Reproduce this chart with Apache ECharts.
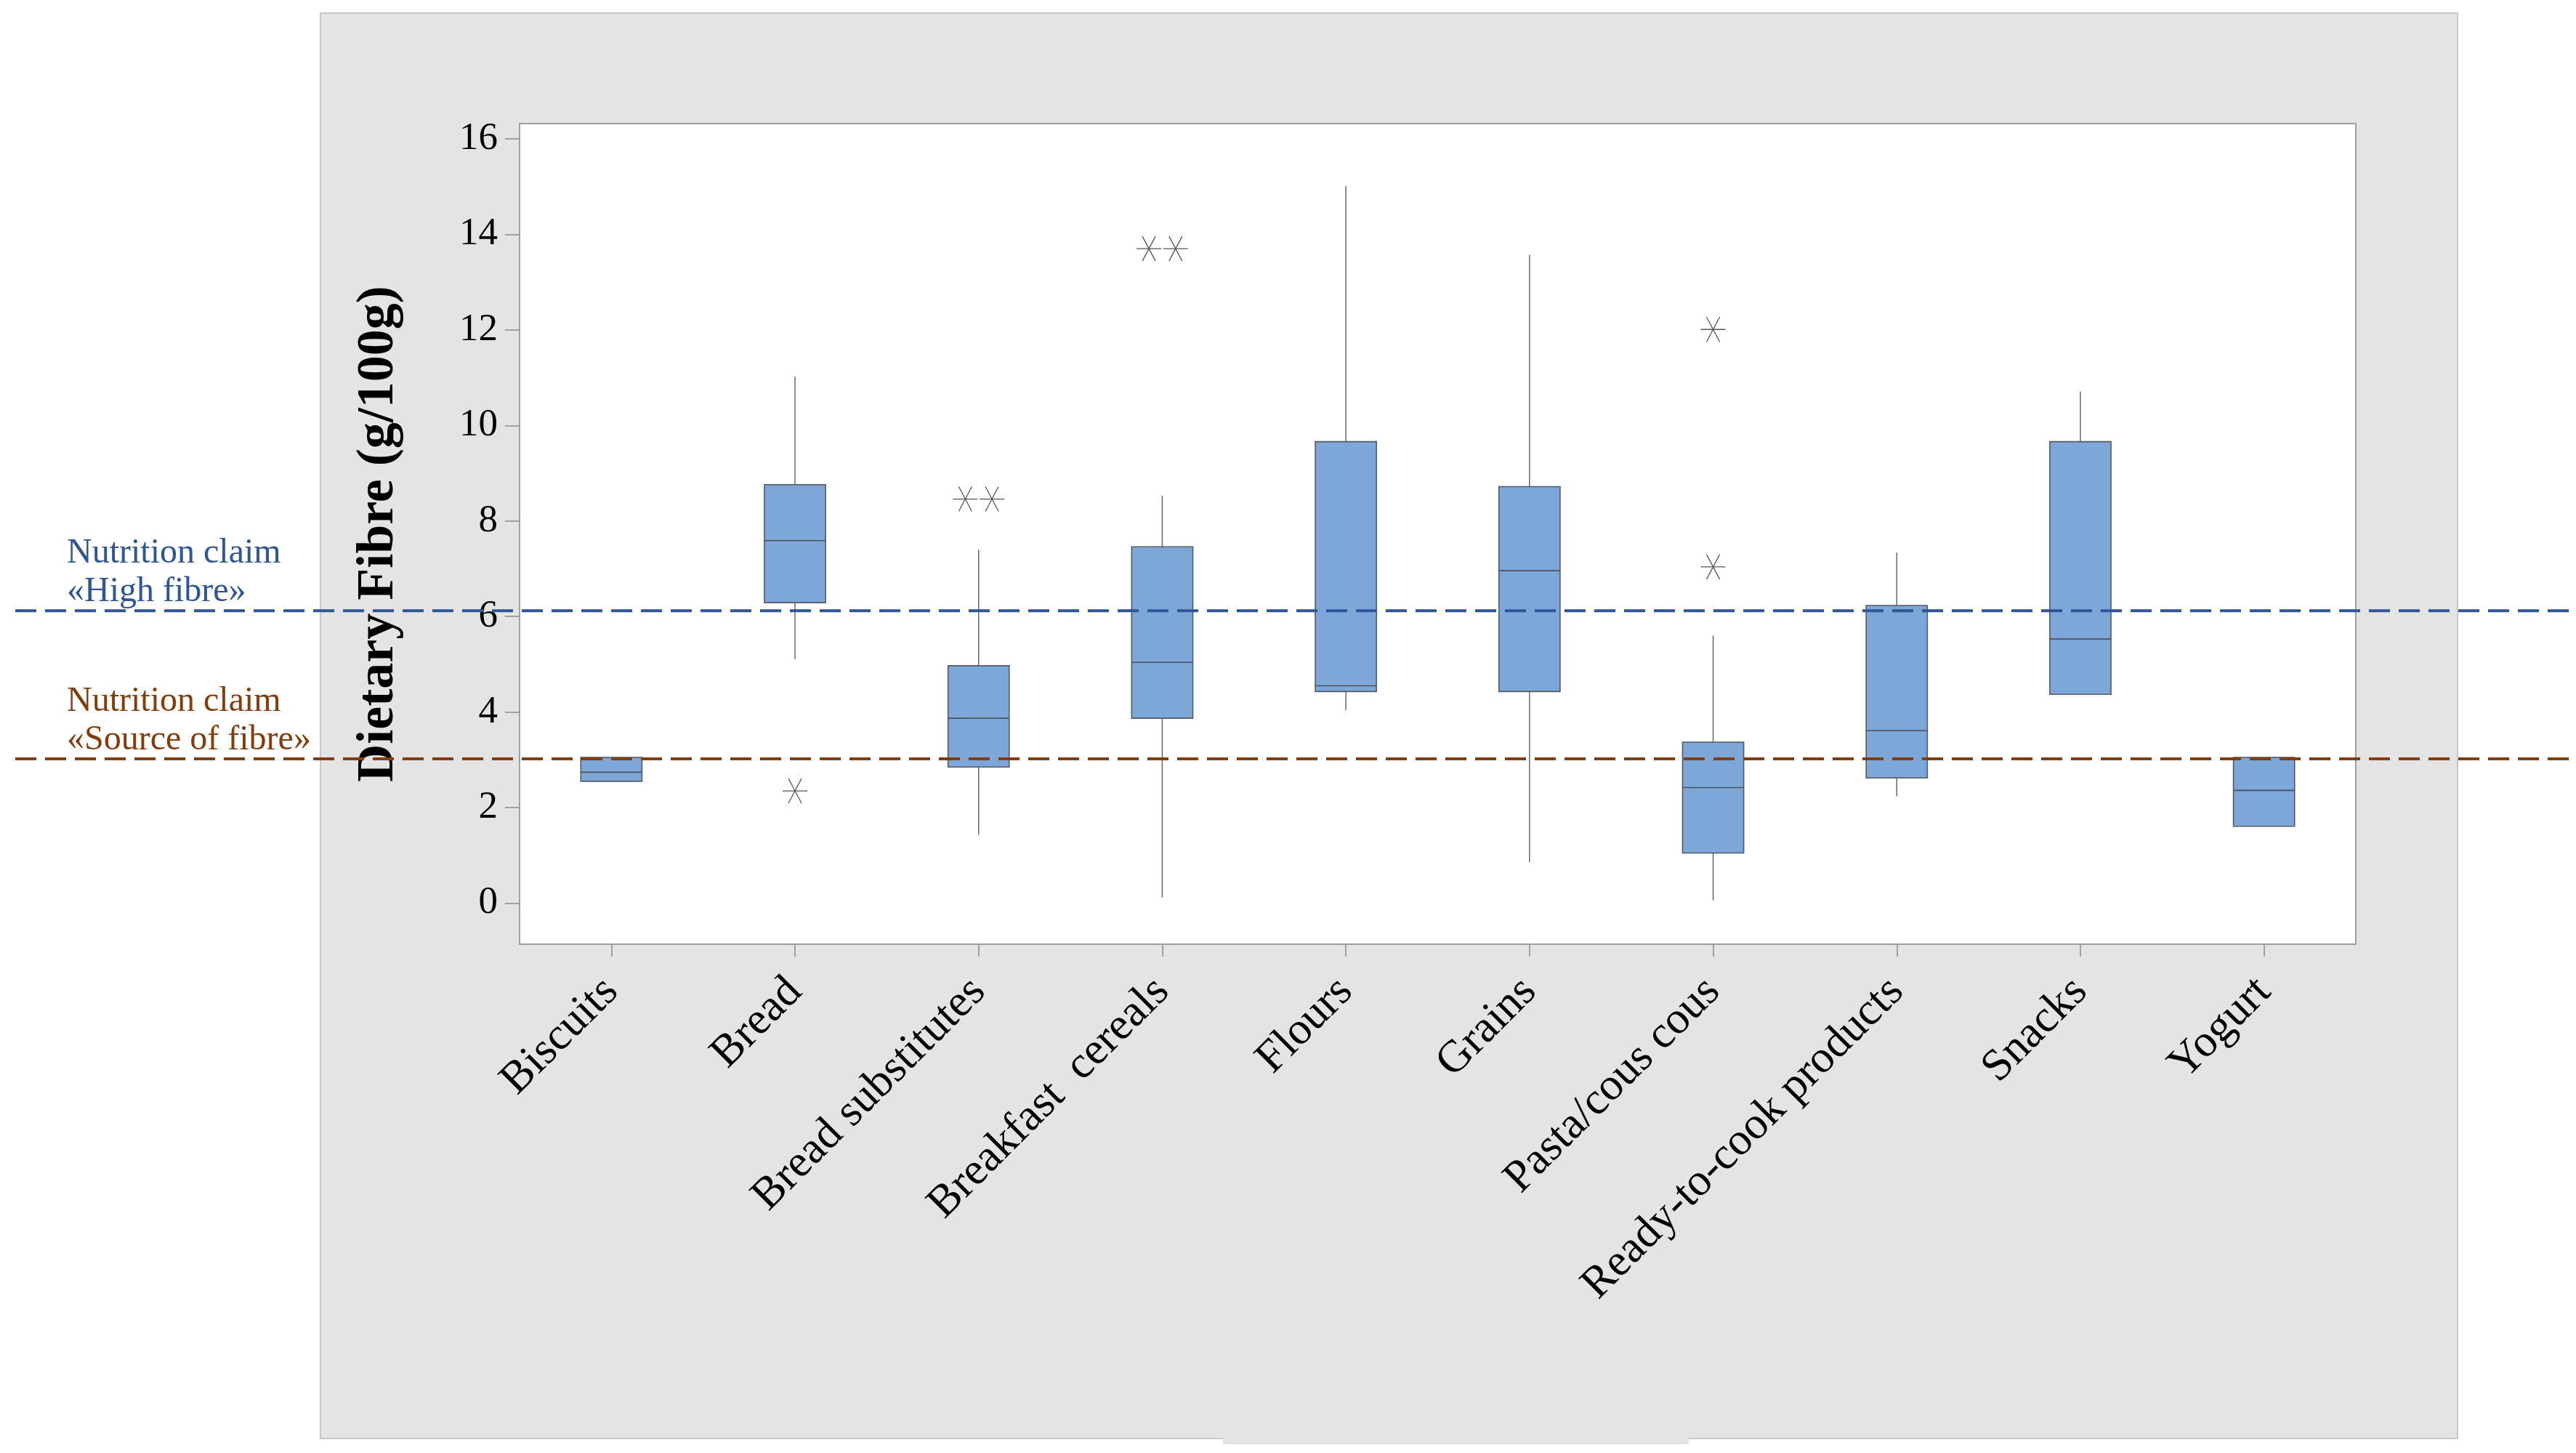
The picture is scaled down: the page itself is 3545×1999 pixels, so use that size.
<!DOCTYPE html>
<html><head><meta charset="utf-8">
<script src="https://cdn.jsdelivr.net/npm/echarts@6/dist/echarts.min.js"></script>
<style>html,body{margin:0;padding:0;background:#fff}#c{width:3545px;height:1999px}</style>
</head><body><div id="c"></div>
<script>
const categories = ['Biscuits','Bread','Bread substitutes','Breakfast  cereals','Flours','Grains','Pasta/cous cous','Ready-to-cook products','Snacks','Yogurt'];
const whiskerLow  = [2.55, 5.11, 1.43, 0.12, 4.04, 0.86, 0.06, 2.24, 4.37, 1.61];
const q1          = [2.55, 6.29, 2.85, 3.87, 4.43, 4.43, 1.05, 2.62, 4.37, 1.61];
const median      = [2.74, 7.59, 3.87, 5.04, 4.55, 6.96, 2.42, 3.61, 5.53, 2.36];
const q3          = [3.05, 8.76, 4.97, 7.46, 9.66, 8.72, 3.37, 6.23, 9.66, 3.05];
const whiskerHigh = [3.05, 11.02, 7.40, 8.53, 15.01, 13.57, 5.60, 7.34, 10.71, 3.05];
const outlierCat   = [1, 2, 2, 3, 3, 6, 6];
const outlierValue = [2.35, 8.46, 8.46, 13.70, 13.70, 12.01, 7.04];
const yTicks = [0, 2, 4, 6, 8, 10, 12, 14, 16];
const claimValues = [6.12, 3.02];
const claimLabels = [['Nutrition claim', '«High fibre»'], ['Nutrition claim', '«Source of fibre»']];
const claimColors = ['#2F5597', '#843C0C'];

const FONT = 'Liberation Serif';
const chart = echarts.init(document.getElementById('c'), null, {renderer: 'canvas'});

const boxData = categories.map((c, i) => [i, whiskerLow[i], q1[i], median[i], q3[i], whiskerHigh[i]]);
// duplicate outliers in a category are spread side by side
const outData = outlierCat.map((c, i) => {
  let k = 0, n = 0;
  outlierCat.forEach((c2, j) => {
    if (c2 === c && outlierValue[j] === outlierValue[i]) { if (j < i) k++; n++; }
  });
  return [c, outlierValue[i], k, n];
});

const option = {
  backgroundColor: '#ffffff',
  animation: false,
  grid: {left: 715, right: 303, top: 170, bottom: 700, show: true, backgroundColor: '#ffffff', borderColor: '#A0A0A0', borderWidth: 2, containLabel: false},
  xAxis: {
    type: 'category', data: categories, boundaryGap: true,
    axisLine: {show: false, onZero: false},
    axisTick: {show: true, alignWithLabel: true, length: 17, lineStyle: {color: '#A0A0A0', width: 2}},
    axisLabel: {interval: 0, rotate: 45, margin: 56, fontFamily: FONT, fontSize: 62, color: '#000'},
    splitLine: {show: false}
  },
  yAxis: {
    type: 'value', min: -0.86, max: 16.32,
    name: 'Dietary Fibre (g/100g)', nameLocation: 'middle', nameRotate: 90, nameGap: 158,
    nameTextStyle: {fontFamily: FONT, fontSize: 72, fontWeight: 'bold', color: '#000'},
    axisLine: {show: false},
    axisTick: {show: true, length: 20, customValues: yTicks, lineStyle: {color: '#A0A0A0', width: 2}},
    axisLabel: {customValues: yTicks, margin: 30, fontFamily: FONT, fontSize: 53, color: '#000'},
    splitLine: {show: false}
  },
  series: [
    {
      type: 'custom', name: 'box', data: boxData, clip: false,
      encode: {x: 0, y: [1, 2, 3, 4, 5]},
      renderItem: function (params, api) {
        const i = api.value(0);
        const lo = api.value(1), a = api.value(2), m = api.value(3), b = api.value(4), hi = api.value(5);
        const bw = api.size([1, 0])[0] * 0.333;
        const pLo = api.coord([i, lo]), pA = api.coord([i, a]), pM = api.coord([i, m]), pB = api.coord([i, b]), pHi = api.coord([i, hi]);
        const x = pM[0];
        const ws = {stroke: '#5E5E5E', lineWidth: 1.4};
        const ch = [];
        if (hi > b) ch.push({type: 'line', shape: {x1: x, y1: pHi[1], x2: x, y2: pB[1]}, style: ws});
        if (lo < a) ch.push({type: 'line', shape: {x1: x, y1: pA[1], x2: x, y2: pLo[1]}, style: ws});
        ch.push({type: 'rect', shape: {x: x - bw / 2, y: pB[1], width: bw, height: pA[1] - pB[1]}, style: {fill: '#7DA7D9', stroke: '#555a60', lineWidth: 1.6}});
        ch.push({type: 'line', shape: {x1: x - bw / 2, y1: pM[1], x2: x + bw / 2, y2: pM[1]}, style: {stroke: '#4d5157', lineWidth: 1.6}});
        return {type: 'group', children: ch};
      }
    },
    {
      type: 'custom', name: 'outliers', data: outData, clip: false,
      encode: {x: 0, y: 1},
      renderItem: function (params, api) {
        const p = api.coord([api.value(0), api.value(1)]);
        const k = api.value(2), n = api.value(3);
        const x = p[0] + (k - (n - 1) / 2) * 36.7, y = p[1];
        const st = {stroke: '#555', lineWidth: 1.3};
        return {type: 'group', children: [
          {type: 'line', shape: {x1: x - 17, y1: y, x2: x + 17, y2: y}, style: st},
          {type: 'line', shape: {x1: x - 9, y1: y - 17, x2: x + 9, y2: y + 17}, style: st},
          {type: 'line', shape: {x1: x + 9, y1: y - 17, x2: x - 9, y2: y + 17}, style: st}
        ]};
      }
    }
  ]
};
chart.setOption(option);

const g = [
  {type: 'rect', z: -100, shape: {x: 441, y: 18, width: 2941, height: 1961}, style: {fill: '#E4E4E4', stroke: '#C8C8C8', lineWidth: 2}},
  {type: 'rect', z: -99, shape: {x: 1683, y: 1975, width: 641, height: 12}, style: {fill: '#E4E4E4'}}
];
claimValues.forEach((v, i) => {
  const y = chart.convertToPixel({yAxisIndex: 0}, v);
  g.push({type: 'line', z: 100, shape: {x1: 21, y1: y, x2: 3542, y2: y}, style: {stroke: claimColors[i], lineWidth: 4, lineDash: [29, 12]}});
  g.push({type: 'text', z: 100, x: 92, y: y - 79, style: {text: claimLabels[i][0], fill: claimColors[i], font: '48px "' + FONT + '"', textVerticalAlign: 'middle', textAlign: 'left'}});
  g.push({type: 'text', z: 100, x: 92, y: y - 26, style: {text: claimLabels[i][1], fill: claimColors[i], font: '48px "' + FONT + '"', textVerticalAlign: 'middle', textAlign: 'left'}});
});
chart.setOption({graphic: {elements: g}});
</script>
</body></html>
